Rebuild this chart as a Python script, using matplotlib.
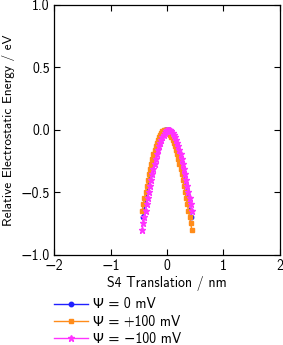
import matplotlib
matplotlib.use('Agg')
import matplotlib.pyplot as plt

# S4 translation (nm) and relative electrostatic energy (eV)
x_zero = [-0.43, -0.41, -0.39, -0.37, -0.35, -0.33, -0.31, -0.29, -0.27, -0.25, -0.23,
          -0.21, -0.19, -0.17, -0.15, -0.13, -0.11, -0.09, -0.07, -0.05, -0.03, -0.01,
          0.01, 0.03, 0.05, 0.07, 0.09, 0.11, 0.13, 0.15, 0.17, 0.19, 0.21,
          0.23, 0.25, 0.27, 0.29, 0.31, 0.33, 0.35, 0.37, 0.39, 0.41, 0.43]
e_zero = [-0.697, -0.646, -0.596, -0.545, -0.496, -0.448, -0.401, -0.355, -0.311, -0.270, -0.231,
          -0.194, -0.160, -0.129, -0.101, -0.077, -0.055, -0.037, -0.022, -0.012, -0.004, 0.000,
          0.000, -0.004, -0.012, -0.022, -0.037, -0.055, -0.077, -0.101, -0.129, -0.160, -0.194,
          -0.231, -0.270, -0.311, -0.355, -0.401, -0.448, -0.496, -0.545, -0.596, -0.646, -0.697]

x_plus = [-0.44, -0.42, -0.40, -0.38, -0.36, -0.34, -0.32, -0.30, -0.28, -0.26, -0.24,
          -0.22, -0.20, -0.18, -0.16, -0.14, -0.12, -0.10, -0.08, -0.06, -0.04, -0.02,
          0.00, 0.02, 0.04, 0.06, 0.08, 0.10, 0.12, 0.14, 0.16, 0.18, 0.20,
          0.22, 0.24, 0.26, 0.28, 0.30, 0.32, 0.34, 0.36, 0.38, 0.40, 0.42, 0.44]
e_plus = [-0.646, -0.596, -0.545, -0.496, -0.448, -0.401, -0.355, -0.311, -0.270, -0.231, -0.194,
          -0.160, -0.129, -0.101, -0.077, -0.055, -0.037, -0.022, -0.012, -0.004, 0.000, 0.000,
          -0.004, -0.012, -0.022, -0.037, -0.055, -0.077, -0.101, -0.129, -0.160, -0.194, -0.231,
          -0.270, -0.311, -0.355, -0.401, -0.448, -0.496, -0.545, -0.596, -0.646, -0.697, -0.747, -0.797]

x_minus = [-0.44, -0.42, -0.40, -0.38, -0.36, -0.34, -0.32, -0.30, -0.28, -0.26, -0.24,
           -0.22, -0.20, -0.18, -0.16, -0.14, -0.12, -0.10, -0.08, -0.06, -0.04, -0.02,
           0.00, 0.02, 0.04, 0.06, 0.08, 0.10, 0.12, 0.14, 0.16, 0.18, 0.20,
           0.22, 0.24, 0.26, 0.28, 0.30, 0.32, 0.34, 0.36, 0.38, 0.40, 0.42, 0.44]
e_minus = [-0.797, -0.747, -0.697, -0.646, -0.596, -0.545, -0.496, -0.448, -0.401, -0.355, -0.311,
           -0.270, -0.231, -0.194, -0.160, -0.129, -0.101, -0.077, -0.055, -0.037, -0.022, -0.012,
           -0.004, 0.000, 0.000, -0.004, -0.012, -0.022, -0.037, -0.055, -0.077, -0.101, -0.129,
           -0.160, -0.194, -0.231, -0.270, -0.311, -0.355, -0.401, -0.448, -0.496, -0.545, -0.596, -0.646]

labels = ['\u03a8 = 0 mV', '\u03a8 = +100 mV', '\u03a8 = \u2212100 mV']

plt.rcParams['font.family'] = ['cmss10', 'DejaVu Sans']
plt.rcParams['axes.unicode_minus'] = True
plt.rcParams['font.size'] = 10

fig = plt.figure(figsize=(2.83, 3.45), dpi=100)
ax = fig.add_axes([0.191, 0.261, 0.798, 0.725])

ax.plot(x_zero, e_zero, 'o-', color='#2020ff', markersize=3.2, linewidth=1, label=labels[0])
ax.plot(x_plus, e_plus, 's-', color='#ff8c1a', markersize=3.2, linewidth=1, label=labels[1])
ax.plot(x_minus, e_minus, '*-', color='#ff33ff', markersize=5, linewidth=1, label=labels[2])

ax.set_xlim(-2, 2)
ax.set_ylim(-1, 1)
ax.set_xticks([-2, -1, 0, 1, 2])
ax.set_yticks([-1.0, -0.5, 0.0, 0.5, 1.0])
ax.set_yticklabels(['\u22121.0', '\u22120.5', '0.0', '0.5', '1.0'])
ax.set_xticklabels(['\u22122', '\u22121', '0', '1', '2'])
ax.tick_params(direction='in', top=True, right=True, length=4, width=0.8, pad=3)
for s in ax.spines.values():
    s.set_linewidth(0.9)

ax.set_xlabel('S4 Translation / nm', labelpad=2)
ax.set_ylabel('Relative Electrostatic Energy / eV', labelpad=4, fontsize=9.6)

fig.legend(loc='upper left', bbox_to_anchor=(0.19, 0.138), frameon=False,
           handlelength=2.45, labelspacing=0.25, borderpad=0, borderaxespad=0,
           handletextpad=0.4, fontsize=10)

fig.savefig('out.png', dpi=100)
